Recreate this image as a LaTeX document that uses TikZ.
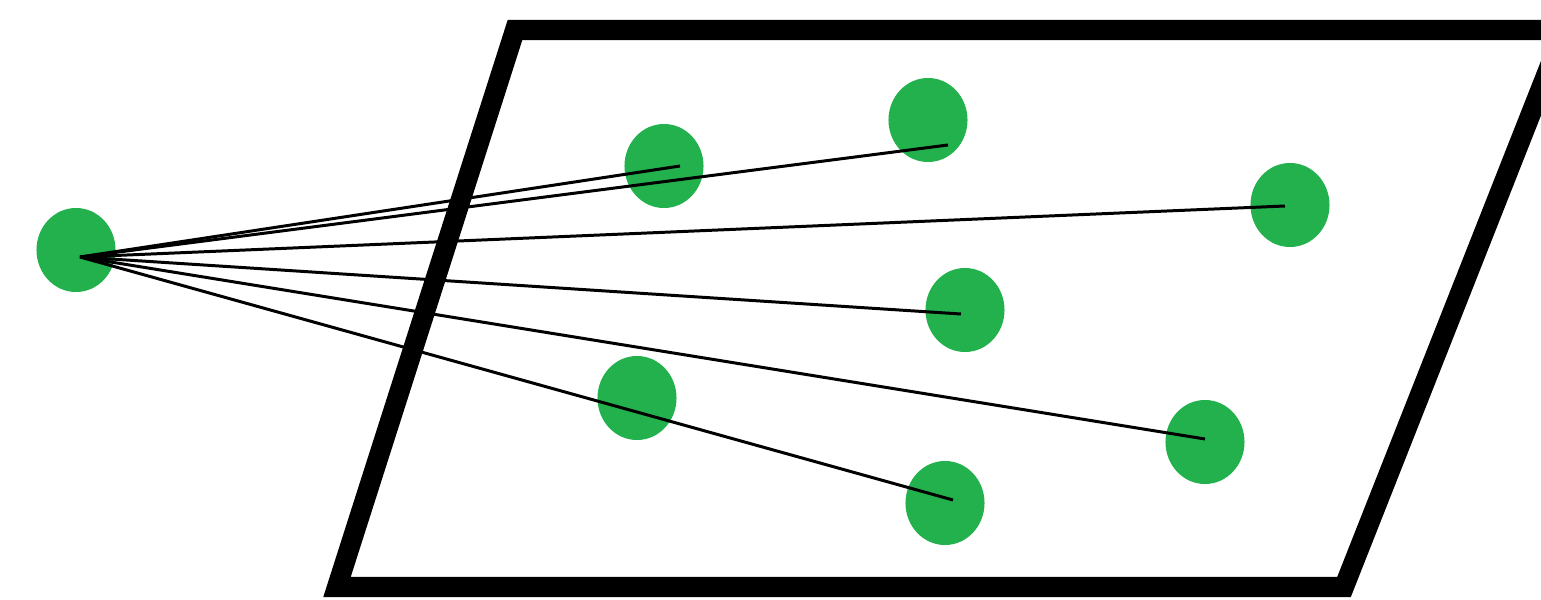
\documentclass[tikz,border=0pt]{standalone}
\usetikzlibrary{shapes.geometric}
\definecolor{dotgreen}{RGB}{34,177,76}
\tikzset{
  dot/.style={ellipse, fill=dotgreen, draw=none, inner sep=0pt,
              minimum width=0.79cm, minimum height=0.84cm},
  frame/.style={line width=5.7pt, draw=black},
  ray/.style={line width=0.85pt, draw=black}
}
\begin{document}
\begin{tikzpicture}[x=0.01cm, y=-0.01cm]
  \useasboundingbox (0,0) rectangle (1541,600);
  \clip (0,0) rectangle (1541,600);
  \fill[white] (0,0) rectangle (1541,600);

  % slanted plane
  \draw[frame] (515,30) -- (1564,30) -- (1344,587) -- (337,587) -- cycle;

  % points
  \node[dot] (src) at (76,250) {};
  \node[dot] (p1) at (664,166) {};
  \node[dot] (p2) at (928,120) {};
  \node[dot] (p3) at (1290,205) {};
  \node[dot] (p4) at (965,310) {};
  \node[dot] (p5) at (637,398) {};
  \node[dot] (p6) at (1205,442) {};
  \node[dot] (p7) at (945,503) {};

  % ray ends
  \coordinate (s) at (80,257);
  \coordinate (e1) at (680,166);
  \coordinate (e2) at (948,145);
  \coordinate (e3) at (1285,206);
  \coordinate (e4) at (961,314);
  \coordinate (e6) at (1205,439);
  \coordinate (e7) at (953,500);

  % rays from the source point
  \foreach \e in {e1,e2,e3,e4,e6,e7}
    \draw[ray] (s) -- (\e);
\end{tikzpicture}
\end{document}
